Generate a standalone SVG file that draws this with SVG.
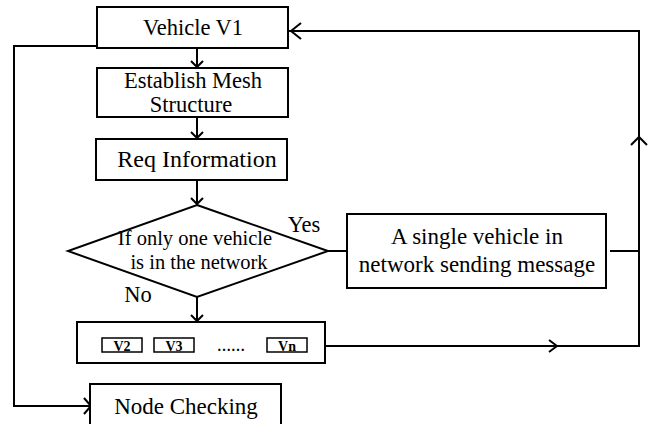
<svg xmlns="http://www.w3.org/2000/svg" width="656" height="424" viewBox="0 0 656 424">
  <style>
    .box { fill: #fff; stroke: #000; stroke-width: 2; }
    .small { fill: #fff; stroke: #000; stroke-width: 1.5; }
    .line { fill: none; stroke: #000; stroke-width: 2; }
    .head { fill: none; stroke: #000; stroke-width: 2; stroke-linejoin: miter; }
    text { fill: #000; }
    .t { font-size: 22.5px; text-anchor: middle; }
    .d { font-size: 20.5px; text-anchor: middle; }
    .v { font-size: 14px; font-weight: bold; text-anchor: middle; }
  </style>
  <rect width="656" height="424" fill="#fff"/>

  <g id="connectors">
    <!-- V1 down to Establish -->
    <path class="line" d="M197 48 V67"/>
    <path class="head" d="M191 61 L197 67 L203 61"/>
    <!-- Establish down to Req -->
    <path class="line" d="M197 117 V138"/>
    <path class="head" d="M191 132 L197 138 L203 132"/>
    <!-- Req down to decision -->
    <path class="line" d="M197 180 V204"/>
    <path class="head" d="M191 198 L197 204 L203 198"/>
    <!-- decision down to vehicle list -->
    <path class="line" d="M197 297 V321"/>
    <path class="head" d="M191 315 L197 321 L203 315"/>
    <!-- Yes branch -->
    <path class="line" d="M328 251 H347"/>
    <!-- single vehicle box to return line -->
    <path class="line" d="M610 251 H639"/>
    <!-- vehicle list back up to V1 -->
    <path class="line" d="M325 346 H639 V31 H289"/>
    <path class="head" d="M549 340 L557 346 L549 352"/>
    <path class="head" d="M631 145 L639 137 L647 145"/>
    <path class="head" d="M301 23 L291 31 L301 39"/>
    <!-- V1 round the left side to Node Checking -->
    <path class="line" d="M97 46 H14 V406 H90"/>
    <path class="head" d="M84 398 L91 406 L84 414"/>
  </g>

  <g id="nodes" font-family="'Liberation Serif', Tinos, 'DejaVu Serif', serif">
  <g id="vehicle-v1">
    <rect class="box" x="97" y="7" width="191" height="41"/>
    <text class="t" x="193" y="35">Vehicle V1</text>
  </g>

  <g id="establish-mesh">
    <rect class="box" x="97" y="68" width="191" height="49"/>
    <text class="t" x="193" y="88">Establish Mesh</text>
    <text class="t" x="191" y="112">Structure</text>
  </g>

  <g id="req-information">
    <rect class="box" x="96" y="139" width="191" height="41"/>
    <text class="t" x="197" y="167" style="font-size:24px">Req Information</text>
  </g>

  <g id="decision">
    <polygon class="box" points="197,205 328,251 197,297 68,251"/>
    <text class="d" x="195" y="245">If only one vehicle</text>
    <text class="d" x="199" y="269">is in the network</text>
    <text class="t" x="304" y="232">Yes</text>
    <text class="t" x="138" y="302">No</text>
  </g>

  <g id="single-vehicle" style="font-size:23px">
    <rect class="box" x="347" y="214" width="259" height="74"/>
    <text class="t" x="477" y="244" style="font-size:23px">A single vehicle in</text>
    <text class="t" x="477" y="272" style="font-size:23px">network sending message</text>
  </g>

  <g id="vehicle-list">
    <rect class="box" x="77" y="322" width="248" height="41"/>
    <rect class="small" x="102" y="338" width="40" height="14"/>
    <text class="v" x="122" y="350.5">V2</text>
    <rect class="small" x="154" y="338" width="40" height="14"/>
    <text class="v" x="174" y="350.5">V3</text>
    <text class="v" x="231" y="350.5">……</text>
    <rect class="small" x="267" y="338" width="40" height="14"/>
    <text class="v" x="287" y="350.5">Vn</text>
  </g>

  <g id="node-checking">
    <rect class="box" x="90" y="384" width="191" height="50"/>
    <text class="t" x="186" y="414" style="font-size:23px">Node Checking</text>
  </g>
  </g>
</svg>
